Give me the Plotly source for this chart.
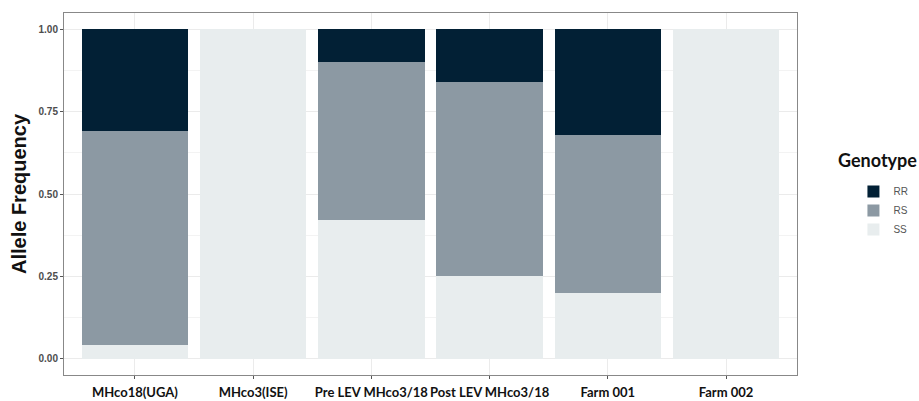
import plotly.graph_objects as go

categories = ["MHco18(UGA)", "MHco3(ISE)", "Pre LEV MHco3/18", "Post LEV MHco3/18", "Farm 001", "Farm 002"]
ss_values = [0.04, 1.00, 0.42, 0.25, 0.20, 1.00]
rs_values = [0.65, 0.00, 0.48, 0.59, 0.48, 0.00]
rr_values = [0.31, 0.00, 0.10, 0.16, 0.32, 0.00]
y_ticks = [0, 0.25, 0.5, 0.75, 1.0]
y_tick_labels = ["0.00", "0.25", "0.50", "0.75", "1.00"]

colors = {"SS": "#E8EDEE", "RS": "#8C99A3", "RR": "#022035"}

fig = go.Figure()
for name, vals in [("SS", ss_values), ("RS", rs_values), ("RR", rr_values)]:
    fig.add_trace(go.Bar(
        x=list(range(len(categories))), y=vals, name=name,
        marker=dict(color=colors[name], line=dict(width=0)),
        width=0.9,
    ))

fig.update_layout(
    barmode="stack",
    width=919, height=401,
    margin=dict(l=64, r=122, t=13, b=26, autoexpand=False),
    plot_bgcolor="white", paper_bgcolor="white",
    showlegend=True,
    legend=dict(
        traceorder="reversed",
        x=1.077, xanchor="left", y=0.547, yanchor="top",
        font=dict(family="Liberation Sans", size=10, color="#555555"),
        tracegroupgap=0, itemwidth=30,
    ),
    annotations=[dict(
        text="<b>Genotype</b>", x=1.11, xref="paper", y=0.594, yref="paper",
        xanchor="center", yanchor="middle", showarrow=False,
        font=dict(family="Lato", size=18, color="#111111"),
    )],
)
fig.update_xaxes(
    range=[-0.6, 5.6], automargin=False, tickangle=0,
    tickmode="array", tickvals=list(range(len(categories))), ticktext=categories,
    tickfont=dict(family="Lato", size=13, color="#111111", weight="bold"),
    ticklabelstandoff=2,
    showgrid=True, gridcolor="#EBEBEB", gridwidth=1,
    ticks="outside", ticklen=3, tickcolor="#555555",
    showline=True, linecolor="#888888", linewidth=1, mirror=True,
    zeroline=False,
)
fig.update_yaxes(
    range=[-0.05, 1.05], automargin=False,
    tickmode="array", tickvals=y_ticks, ticktext=y_tick_labels,
    tickfont=dict(family="Liberation Sans", size=10, color="#4D4D4D", weight="bold"),
    showgrid=True, gridcolor="#EBEBEB", gridwidth=1,
    minor=dict(tickvals=[0.125, 0.375, 0.625, 0.875], showgrid=True, gridcolor="#F3F3F3", gridwidth=1, ticks=""),
    ticks="outside", ticklen=3, tickcolor="#555555",
    showline=True, linecolor="#888888", linewidth=1, mirror=True,
    zeroline=False,
    title=dict(text="<b>Allele Frequency</b>", font=dict(family="Liberation Sans", size=20, color="#111111"), standoff=6),
)

fig.write_html("out.html", config={"displayModeBar": False},
               post_script="document.body.style.margin='0';document.body.style.overflow='hidden';")
